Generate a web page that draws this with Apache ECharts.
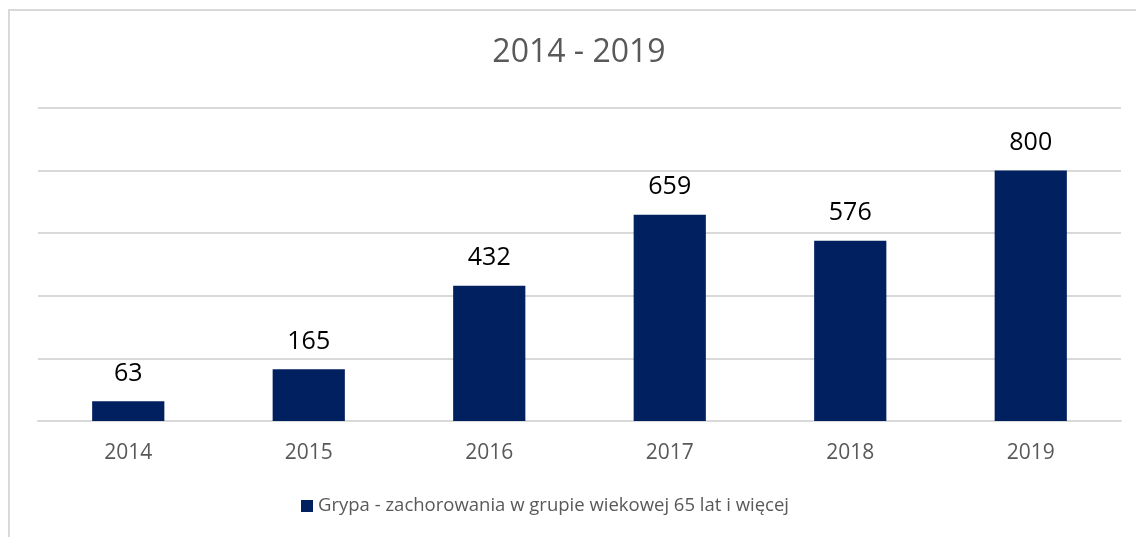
<!DOCTYPE html>
<html><head><meta charset="utf-8">
<script src="https://cdn.jsdelivr.net/npm/echarts@6/dist/echarts.min.js"></script>
<style>html,body{margin:0;padding:0;background:#fff}#c{width:1136px;height:537px}</style>
</head><body><div id="c"></div>
<script>
var categories = ['2014','2015','2016','2017','2018','2019'];
var values = [63,165,432,659,576,800];
var seriesName = 'Grypa - zachorowania w grupie wiekowej 65 lat i więcej';
var titleText = '2014 - 2019';

var chart = echarts.init(document.getElementById('c'), null, {renderer:'canvas'});
chart.setOption({
  animation:false,
  backgroundColor:'#ffffff',
  graphic:[
    {type:'rect',shape:{x:9,y:10,width:1300,height:700},
      style:{fill:'none',stroke:'#d9d9d9',lineWidth:2},silent:true,z:-1},
    {type:'text',x:579,y:53,silent:true,
      style:{text:titleText,fontFamily:'Open Sans',fontSize:32,fill:'#595959',
        textAlign:'center',textVerticalAlign:'middle'}}
  ],
  legend:{data:[seriesName],left:301,top:493,padding:0,itemWidth:12,itemHeight:12,itemGap:5,
    icon:'rect',textStyle:{fontFamily:'Open Sans',fontSize:18.5,color:'#595959',lineHeight:26}},
  grid:{left:38,right:15,top:108,bottom:116,containLabel:false},
  xAxis:{type:'category',data:categories,
    axisLine:{lineStyle:{color:'#d9d9d9',width:2}},axisTick:{show:false},
    axisLabel:{fontFamily:'Open Sans',fontSize:21,color:'#595959',margin:22}},
  yAxis:{type:'value',min:0,max:1000,interval:200,
    axisLabel:{show:false},axisLine:{show:false},axisTick:{show:false},
    splitLine:{lineStyle:{color:'#d9d9d9',width:2}}},
  series:[{type:'bar',name:seriesName,data:values,barWidth:'40%',
    itemStyle:{color:'#002060'},
    label:{show:true,position:'top',distance:15,fontFamily:'Open Sans',fontSize:25,color:'#000000'}}]
});
</script></body></html>
